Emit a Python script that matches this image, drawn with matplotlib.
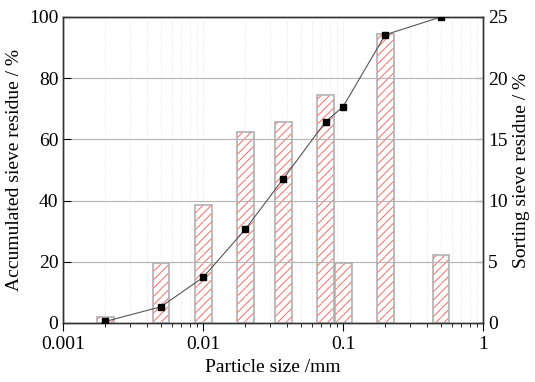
import matplotlib
matplotlib.use("Agg")
import matplotlib.pyplot as plt
import numpy as np

plt.rcParams['font.family'] = ['Liberation Serif', 'DejaVu Serif']
plt.rcParams['hatch.linewidth'] = 0.7

# particle size (mm)
sizes = [0.002, 0.005, 0.01, 0.02, 0.0375, 0.075, 0.1, 0.2, 0.5]
# sorting sieve residue (%), right axis
sorting = [0.5, 4.9, 9.65, 15.6, 16.4, 18.6, 4.9, 23.6, 5.55]
# accumulated sieve residue (%), left axis
accum = [0.5, 5.3, 14.9, 30.6, 47.2, 65.8, 70.7, 94.2, 100.0]

fig = plt.figure(figsize=(5.35, 3.82), dpi=100)
ax = fig.add_axes([0.118, 0.1545, 0.785, 0.801])
ax2 = ax.twinx()

# bars on the right axis, constant width in log space
x = np.array(sizes)
lo = x * 10 ** -0.06
hi = x * 10 ** 0.06
ax2.bar(lo, sorting, width=hi - lo, align='edge', facecolor='none',
        edgecolor='#ff6666', hatch='////', linewidth=0, zorder=2)
ax2.bar(lo, sorting, width=hi - lo, align='edge', facecolor='none',
        edgecolor='#b0b0b0', linewidth=1.2, zorder=3)
ax2.set_ylim(0, 25)
ax2.set_yticks([0, 5, 10, 15, 20, 25])
ax2.set_ylabel('Sorting sieve residue / %', fontsize=14)

# cumulative line on the left axis
ax.set_zorder(ax2.get_zorder() + 1)
ax.patch.set_visible(False)
ax.plot(sizes, accum, color='#555555', linewidth=0.8, marker='s',
        markersize=5, markerfacecolor='black', markeredgecolor='black', zorder=5)
ax.set_xscale('log')
ax.set_xlim(0.001, 1)
ax.set_ylim(0, 100)
ax.set_yticks([0, 20, 40, 60, 80, 100])
ax.set_xticks([0.001, 0.01, 0.1, 1])
ax.set_xticklabels(['0.001', '0.01', '0.1', '1'])
ax.set_xlabel('Particle size /mm', fontsize=14)
ax.set_ylabel('Accumulated sieve residue / %', fontsize=14)

ax.grid(axis='y', which='major', color='#b4b4b4', linewidth=0.8)
ax.grid(axis='x', which='both', color='#e0e0e0', linewidth=0.6, linestyle=':')

ax.tick_params(axis='x', which='major', direction='out', length=6, labelsize=14)
ax.tick_params(axis='x', which='minor', direction='out', length=3)
ax.tick_params(axis='y', direction='in', length=6, labelsize=14)
ax2.tick_params(axis='y', direction='in', length=6, labelsize=14)

for a in (ax, ax2):
    for s in a.spines.values():
        s.set_color('#333333')
        s.set_linewidth(1.0)

fig.savefig('out.png', dpi=100)
